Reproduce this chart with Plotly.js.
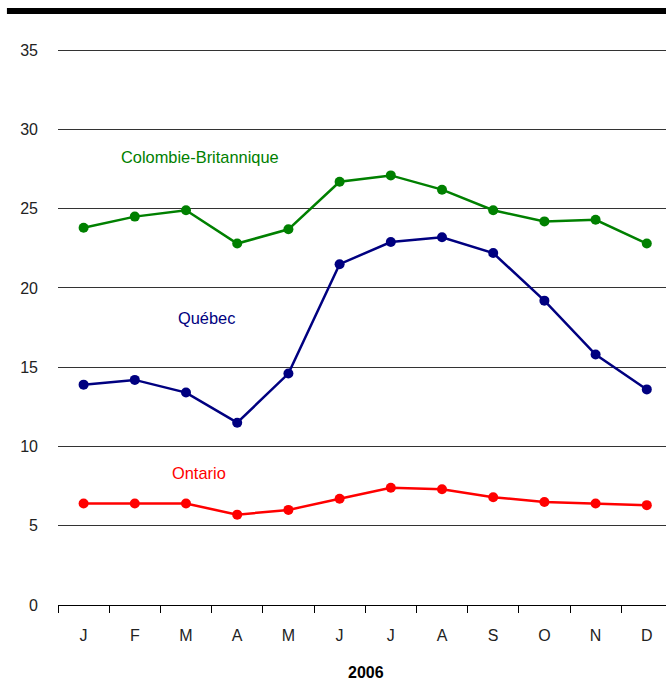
<!DOCTYPE html>
<html>
<head>
<meta charset="utf-8">
<script src="https://cdn.plot.ly/plotly-3.0.1.min.js"></script>
<style>html,body{margin:0;padding:0;background:#fff;}#chart{width:666px;height:681px;}</style>
</head>
<body>
<div id="chart"></div>
<script>
const months = ["J","F","M","A","M","J","J","A","S","O","N","D"];
const monthKeys = ["Jan","Feb","Mar","Apr","May","Jun","Jul","Aug","Sep","Oct","Nov","Dec"];
const colombieBritannique = [23.8, 24.5, 24.9, 22.8, 23.7, 26.7, 27.1, 26.2, 24.9, 24.2, 24.3, 22.8];
const quebec = [13.9, 14.2, 13.4, 11.5, 14.6, 21.5, 22.9, 23.2, 22.2, 19.2, 15.8, 13.6];
const ontario = [6.4, 6.4, 6.4, 5.7, 6.0, 6.7, 7.4, 7.3, 6.8, 6.5, 6.4, 6.3];
const yTicks = [0, 5, 10, 15, 20, 25, 30, 35];
const xTitle = "2006";

const FONT = "'Liberation Sans Narrow', 'Arial Narrow', 'Liberation Sans', Arial, sans-serif";

function series(name, y, color) {
  return {
    type: "scatter", mode: "lines+markers", name: name,
    x: monthKeys, y: y,
    line: {color: color, width: 2.5},
    marker: {color: color, size: 10},
    cliponaxis: false,
    hoverinfo: "skip"
  };
}

const data = [
  series("Colombie-Britannique", colombieBritannique, "#008000"),
  series("Québec", quebec, "#000080"),
  series("Ontario", ontario, "#ff0000")
];

const H = 558;
const layout = {
  width: 666, height: 681,
  margin: {l: 58, r: 0, t: 47, b: 76},
  paper_bgcolor: "#fff", plot_bgcolor: "#fff",
  showlegend: false,
  font: {family: FONT, size: 16, color: "#222"},
  xaxis: {
    type: "category",
    range: [-0.5, 11.375],
    tickmode: "array", tickvals: monthKeys, ticktext: months,
    tickson: "boundaries",
    ticks: "outside", ticklen: 7, tickwidth: 1, tickcolor: "#000",
    ticklabelstandoff: 16,
    showline: true, linecolor: "#000", linewidth: 1,
    showgrid: false, zeroline: false,
    tickfont: {family: FONT, size: 16, color: "#222"}
  },
  yaxis: {
    range: [0, 35.2],
    tickmode: "array", tickvals: yTicks,
    ticks: "",
    ticklabelstandoff: 19,
    showgrid: true, gridcolor: "#333", gridwidth: 1,
    zeroline: false, showline: false,
    tickfont: {family: FONT, size: 16, color: "#222"}
  },
  shapes: [
    {type: "rect", xref: "paper", yref: "paper",
     x0: -0.084, x1: 1.01, y0: (605-14)/H, y1: (605-8)/H,
     fillcolor: "#000", line: {width: 0}, layer: "above"}
  ],
  annotations: [
    {text: "Colombie-Britannique", x: 2.27, y: 28.25, xref: "x", yref: "y",
     showarrow: false, font: {family: FONT, size: 16.4, color: "#008000"}},
    {text: "Québec", x: 2.41, y: 18.1, xref: "x", yref: "y",
     showarrow: false, font: {family: FONT, size: 16.4, color: "#000080"}},
    {text: "Ontario", x: 2.25, y: 8.32, xref: "x", yref: "y",
     showarrow: false, font: {family: FONT, size: 16.4, color: "#ff0000"}},
    {text: "<b>" + xTitle + "</b>", x: 0.5066, y: -(672-605)/H, xref: "paper", yref: "paper",
     yanchor: "middle", showarrow: false, font: {family: FONT, size: 16, color: "#000"}}
  ]
};

Plotly.newPlot("chart", data, layout, {staticPlot: true, displayModeBar: false});
</script>
</body>
</html>
